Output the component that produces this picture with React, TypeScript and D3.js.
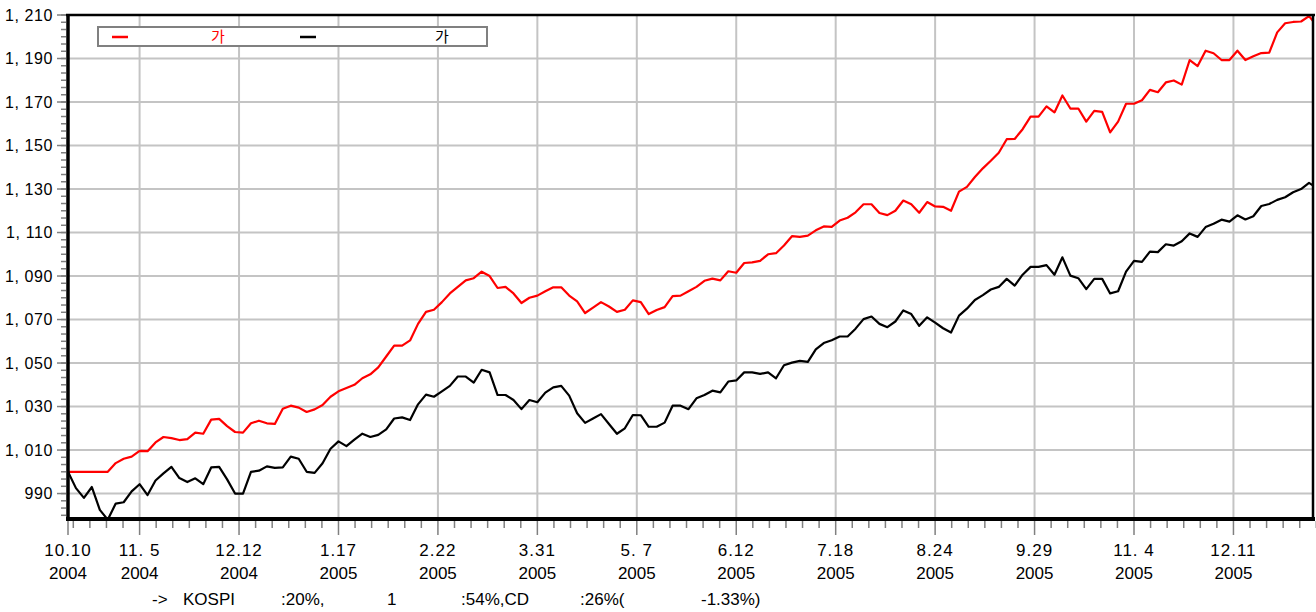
import { useMemo } from "react";
import * as d3 from "d3";

// values, one every 2 trading days starting 10.10 2004
const redSeries = [
  1000, 1000, 1000, 1000, 1000, 1000, 1004, 1006, 1007, 1009.6,
  1009.5, 1013.5, 1016, 1015.5, 1014.6, 1015, 1018, 1017.5, 1024, 1024.3,
  1021, 1018.3, 1018, 1022.3, 1023.5, 1022.3, 1022, 1029, 1030.4, 1029.5,
  1027.5, 1028.7, 1030.7, 1034.5, 1037, 1038.5, 1040, 1043, 1044.8, 1048,
  1053, 1058, 1058, 1060.4, 1068, 1073.5, 1074.5, 1078, 1082, 1085,
  1088, 1089, 1092, 1090, 1084.5, 1085, 1082, 1077.6, 1080, 1081,
  1083, 1084.8, 1084.8, 1081, 1078.3, 1073, 1075.5, 1078, 1076, 1073.5,
  1074.5, 1078.8, 1078, 1072.5, 1074.4, 1075.7, 1080.8, 1081, 1083, 1085,
  1087.8, 1088.8, 1088, 1092.2, 1091.5, 1096, 1096.3, 1097, 1100, 1100.5,
  1104, 1108.3, 1108, 1108.6, 1111, 1112.8, 1112.6, 1115.5, 1116.8, 1119.3,
  1123, 1123, 1119, 1118, 1120, 1124.7, 1123, 1119.1, 1124, 1122,
  1121.8, 1120, 1128.8, 1131, 1135.5, 1139.5, 1143, 1146.7, 1152.9, 1153,
  1157.5, 1163.3, 1163.3, 1168, 1165.2, 1173, 1167, 1167, 1161, 1165.9,
  1165.5, 1156, 1161, 1169.2, 1169.2, 1170.8, 1175.6, 1174.5, 1179, 1179.9,
  1178, 1189.3, 1186.5, 1193.6, 1192.4, 1189.3, 1189.3, 1193.6, 1189.3, 1191,
  1192.5, 1192.7, 1202, 1206.2, 1206.8, 1207, 1209.5, 1205,
];

const blackSeries = [
  1000, 992.5, 988, 993, 982.5, 978, 985.4, 986, 991, 994.3,
  989.3, 996, 999.3, 1002.3, 997.1, 995.3, 997, 994.3, 1002, 1002.3,
  996.5, 990, 990, 1000, 1000.5, 1002.5, 1001.8, 1002, 1007, 1006,
  1000, 999.5, 1003.9, 1010.6, 1014, 1011.8, 1014.8, 1017.5, 1016, 1017,
  1019.5, 1024.5, 1025, 1023.8, 1031, 1035.5, 1034.5, 1037, 1039.5, 1043.8,
  1043.8, 1041, 1046.9, 1045.7, 1035.3, 1035.3, 1033, 1028.8, 1033, 1032,
  1036.4, 1038.8, 1039.5, 1035, 1026.9, 1022.5, 1024.5, 1026.5, 1022, 1017.5,
  1020, 1026.1, 1026, 1020.7, 1020.7, 1022.6, 1030.4, 1030.4, 1028.8, 1033.8,
  1035.3, 1037.3, 1036.5, 1041.5, 1042, 1045.7, 1045.7, 1045, 1045.7, 1043,
  1049, 1050.2, 1051, 1050.5, 1056.3, 1059.2, 1060.5, 1062.2, 1062.2, 1065.8,
  1070.2, 1071.4, 1068, 1066.5, 1069.1, 1074.2, 1072.5, 1067.1, 1071, 1068.6,
  1066, 1064, 1071.8, 1075, 1079, 1081.2, 1083.8, 1085, 1088.7, 1085.6,
  1090.6, 1094.2, 1094.2, 1095, 1090.6, 1098.6, 1090.2, 1089, 1084, 1088.7,
  1088.7, 1082, 1083, 1092, 1097, 1096.5, 1101.2, 1101, 1104.6, 1104,
  1106, 1109.6, 1108, 1112.5, 1114, 1115.9, 1115, 1117.9, 1116, 1117.5,
  1122.2, 1123.1, 1125, 1126.2, 1128.5, 1130, 1132.8, 1130.5,
];

// trading-day index of each labelled tick
const tickDays = [0, 18, 43, 68, 93, 118, 143, 168, 193, 218, 243, 268, 293];
const tickDates = ["10.10", "11. 5", "12.12", "1.17", "2.22", "3.31", "5. 7", "6.12", "7.18", "8.24", "9.29", "11. 4", "12.11"];
const tickYears = ["2004", "2004", "2004", "2005", "2005", "2005", "2005", "2005", "2005", "2005", "2005", "2005", "2005"];
const yTicks = [990, 1010, 1030, 1050, 1070, 1090, 1110, 1130, 1150, 1170, 1190, 1210];
const legendNames = ["가", "가"];
const seriesColors = ["#ff0000", "#000000"];
const noteParts = ["->", "KOSPI", ":20%,", "1", ":54%,CD", ":26%(", "-1.33%)"];

const DAY_STEP = 2;
const LAST_DAY = 313;
const W = 1316;
const H = 612;
const left = 68, right = 1313, top = 15, bottom = 519;
const narrow = "'Liberation Sans Narrow', 'Liberation Sans', Arial, sans-serif";

export default function App() {
  const x = useMemo(() => d3.scaleLinear().domain([0, LAST_DAY]).range([left, right]), []);
  const y = useMemo(() => d3.scaleLinear().domain([978.3, 1210]).range([bottom, top]), []);

  const line = d3.line<number>().x((_, i) => x(i * DAY_STEP)).y(d => y(d));

  // minor ticks: 6 steps between labelled dates, 6 steps between y labels
  const xMinor: number[] = [];
  const stepX = 25 / 6;
  for (let t = tickDays[1] - stepX; t > 0.5; t -= stepX) xMinor.push(t);
  for (let k = 1; k < tickDays.length; k++) {
    for (let j = 1; j < 6; j++) xMinor.push(tickDays[k] + j * stepX);
  }
  const yMinor: number[] = [];
  for (let v = 1210; v > y.domain()[0]; v -= 20 / 6) yMinor.push(v);

  const fmt = d3.format(",");
  const notePos = [152, 183, 281, 387, 461, 580, 701];
  const legendPos = [
    { dash: 112, text: 218 },
    { dash: 300, text: 442 },
  ];

  return (
    <svg width={W} height={H} style={{ position: "fixed", left: 0, top: 0, background: "#fff" }}>
      <defs>
        <clipPath id="plot">
          <rect x={left} y={top} width={right - left} height={bottom - top} />
        </clipPath>
      </defs>
      <rect x={0} y={0} width={W} height={H} fill="#fff" />

      {/* grid */}
      {yTicks.slice(0, -1).map(v => (
        <line key={"gy" + v} x1={left} x2={right} y1={y(v)} y2={y(v)} stroke="#c4c4c4" strokeWidth={2} />
      ))}
      {tickDays.slice(1).map(d => (
        <line key={"gx" + d} x1={x(d)} x2={x(d)} y1={top} y2={bottom} stroke="#c4c4c4" strokeWidth={2} />
      ))}

      {/* series */}
      <g clipPath="url(#plot)">
        {[redSeries, blackSeries].map((s, i) => (
          <path key={i} d={line(s) || ""} fill="none" stroke={seriesColors[i]} strokeWidth={2.2} strokeLinejoin="round" />
        ))}
      </g>

      {/* frame */}
      <line x1={left - 2} x2={right + 2} y1={top} y2={top} stroke="#000" strokeWidth={2.5} />
      <line x1={right} x2={right} y1={top} y2={bottom} stroke="#000" strokeWidth={2.5} />
      <line x1={left} x2={left} y1={top - 1} y2={bottom + 2} stroke="#000" strokeWidth={3.5} />
      <line x1={left - 2} x2={right + 2} y1={bottom} y2={bottom} stroke="#000" strokeWidth={4} />

      {/* y axis */}
      {yMinor.map(v => (
        <line key={"ym" + v} x1={left - 7} x2={left - 2} y1={y(v)} y2={y(v)} stroke="#808080" strokeWidth={1.5} />
      ))}
      {yTicks.map(v => (
        <g key={"yt" + v}>
          <line x1={left - 11} x2={left - 2} y1={y(v)} y2={y(v)} stroke="#808080" strokeWidth={1.5} />
          <text x={53} y={y(v)} dy="0.36em" textAnchor="end" fontFamily="'Liberation Sans', Arial, sans-serif" fontSize={16} letterSpacing={0.6} fill="#000">
            {fmt(v).replace(",", ", ")}
          </text>
        </g>
      ))}

      {/* x axis */}
      {xMinor.map(d => (
        <line key={"xm" + d} x1={x(d)} x2={x(d)} y1={bottom + 2} y2={bottom + 9} stroke="#808080" strokeWidth={1.5} />
      ))}
      {tickDays.map((d, i) => (
        <g key={"xt" + d}>
          <line x1={x(d)} x2={x(d)} y1={bottom + 2} y2={bottom + 16} stroke="#808080" strokeWidth={1.5} />
          <text x={x(d)} y={556} textAnchor="middle" fontFamily={narrow} fontSize={17} letterSpacing={1} fill="#000" style={{ whiteSpace: "pre" }}>
            {tickDates[i]}
          </text>
          <text x={x(d)} y={579} textAnchor="middle" fontFamily={narrow} fontSize={17} fill="#000">
            {tickYears[i]}
          </text>
        </g>
      ))}

      {/* note under the axis */}
      <text y={605} fontFamily={narrow} fontSize={17} fill="#000">
        {noteParts.map((p, i) => (
          <tspan key={i} x={notePos[i]}>{p}</tspan>
        ))}
      </text>

      {/* legend */}
      <rect x={98} y={27} width={389} height={19} fill="#fff" stroke="#808080" strokeWidth={2} />
      {legendNames.map((n, i) => (
        <g key={"lg" + i}>
          <line x1={legendPos[i].dash} x2={legendPos[i].dash + 16} y1={37} y2={37} stroke={seriesColors[i]} strokeWidth={2.5} />
          <text x={legendPos[i].text} y={37} dy="0.36em" textAnchor="middle" fontFamily="'Noto Sans CJK KR', sans-serif" fontSize={15} fill={seriesColors[i]}>
            {n}
          </text>
        </g>
      ))}
    </svg>
  );
}
